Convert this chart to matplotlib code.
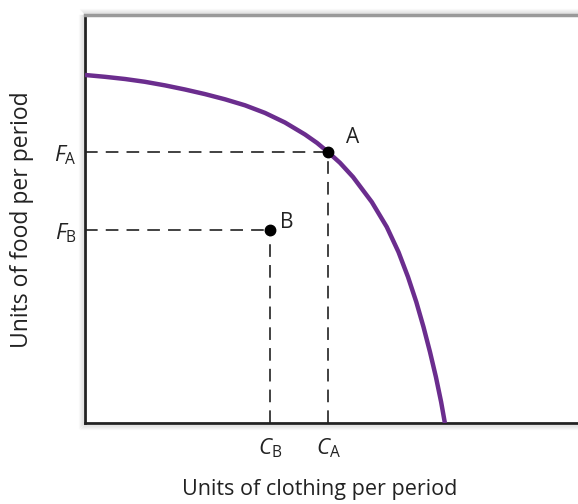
import matplotlib
matplotlib.use("Agg")
import matplotlib.pyplot as plt
from matplotlib.lines import Line2D

plt.rcParams['font.family'] = ['Open Sans', 'DejaVu Sans']
plt.rcParams['mathtext.fontset'] = 'custom'
plt.rcParams['mathtext.rm'] = 'Open Sans'
plt.rcParams['mathtext.it'] = 'Open Sans:italic'

# production possibilities curve
clothing = [0.0, 0.388, 0.777, 1.165, 1.553, 1.942, 2.330, 2.718, 3.107, 3.495, 3.883,
            4.272, 4.505, 4.718, 4.951, 5.204, 5.569, 5.860, 6.087, 6.272, 6.433,
            6.573, 6.699, 6.814, 6.915, 6.988]
food = [6.824, 6.788, 6.745, 6.690, 6.620, 6.539, 6.449, 6.347, 6.229, 6.080, 5.892,
        5.657, 5.492, 5.314, 5.102, 4.824, 4.333, 3.843, 3.353, 2.863, 2.373,
        1.882, 1.392, 0.902, 0.412, 0.0]

point_names = ["A", "B"]
point_x = [4.718, 3.59]
point_y = [5.314, 3.78]

purple = "#6b2d8e"
dash = "#333333"

W, H = 578, 504
fig = plt.figure(figsize=(W / 100, H / 100), dpi=100)
L, B, R, T = 85, 423, 600, 15
ax = fig.add_axes([L / W, (H - B) / H, (R - L) / W, (B - T) / H])
ax.set_xlim(0, 10)
ax.set_ylim(0, 8)

ax.plot(clothing, food, color=purple, lw=3.2, solid_joinstyle='round',
        solid_capstyle='butt', zorder=3)

# label offsets from each point
offsets = [(0.35, 0.28), (0.2, 0.16)]
for name, px, py, (dx, dy) in zip(point_names, point_x, point_y, offsets):
    ax.plot([0, px], [py, py], color=dash, lw=1.3, dashes=(7, 4.5), zorder=2)
    ax.plot([px, px], [0, py], color=dash, lw=1.3, dashes=(7, 4.5), zorder=2)
    ax.plot(px, py, 'o', color='black', ms=7.5, zorder=4)
    ax.text(px + dx, py + dy, name, fontsize=15, ha='left', va='center', color='#222222')

ax.set_yticks(point_y)
ax.set_yticklabels([r'$F_{\mathrm{A}}$', r'$F_{\mathrm{B}}$'], fontsize=16)
ax.set_xticks(point_x)
ax.set_xticklabels([r'$C_{\mathrm{A}}$', r'$C_{\mathrm{B}}$'], fontsize=16)
ax.tick_params(axis='y', length=0, pad=6, colors='#222222')
ax.tick_params(axis='x', length=0, pad=10, colors='#222222')

ax.set_xlabel("Units of clothing per period", fontsize=15.5, color='#222222')
ax.xaxis.set_label_coords((320 - L) / (R - L), -(490 - B) / (B - T))
ax.set_ylabel("Units of food per period", fontsize=16.5, color='#222222')
ax.yaxis.set_label_coords(-(L - 22) / (R - L), (B - 220) / (B - T))
ax.xaxis.label.set_va('center')
ax.yaxis.label.set_va('center')

for side in ['left', 'bottom']:
    ax.spines[side].set_linewidth(2)
    ax.spines[side].set_color('#222222')
ax.spines['top'].set_linewidth(2.5)
ax.spines['top'].set_color('#9a9a9a')
ax.spines['right'].set_visible(False)

# soft shadow along the frame
for k in range(1, 6):
    a = 0.22 * (1 - k / 6)
    fig.add_artist(Line2D([(L - 1 - k) / W] * 2, [(H - B - k) / H, (H - T) / H],
                          color='gray', alpha=a, lw=1))
    fig.add_artist(Line2D([(L - k) / W, 1], [(H - B - 1 - k) / H] * 2,
                          color='gray', alpha=a, lw=1))
    fig.add_artist(Line2D([(L - k) / W, 1], [(H - T + 1 + k) / H] * 2,
                          color='gray', alpha=a, lw=1))

fig.savefig("out.png", dpi=100)
